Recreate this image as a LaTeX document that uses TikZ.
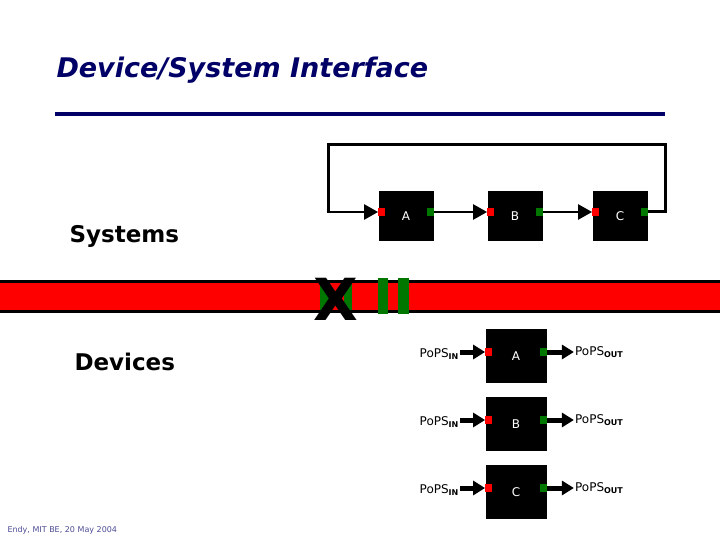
\documentclass[tikz,border=0pt]{standalone}
\usepackage{fontspec}
\setmainfont{DejaVu Sans}
\usetikzlibrary{arrows.meta}
\definecolor{navy}{RGB}{0,0,102}
\definecolor{dgreen}{RGB}{0,120,0}
\begin{document}
\begin{tikzpicture}[x=1pt,y=-1pt,
 box/.style={fill=black,draw=none,minimum width=#1,text=white,inner sep=0pt,font=\fontsize{12}{14}\selectfont},
 port/.style={fill=#1,minimum width=7pt,minimum height=8pt,inner sep=0pt},
 wire/.style={line width=2.5pt,-{Triangle[length=14pt,width=15pt]}},
 fat/.style={line width=5pt,-{Triangle[length=12pt,width=14pt]}},
 lbl/.style={font=\fontsize{12}{14}\selectfont,inner sep=1pt}]
\useasboundingbox (0,0) rectangle (720,540);
\node[font=\bfseries\itshape\fontsize{27}{30}\selectfont,text=navy,anchor=west] (title) at (53,70) {Device/System Interface};
\draw[navy,line width=4.5pt] (55,114) -- (665,114);
\node[font=\bfseries\fontsize{23}{26}\selectfont,anchor=west] (sys) at (66,236) {Systems};
\node[font=\bfseries\fontsize{23}{26}\selectfont,anchor=west] (dev) at (71,362) {Devices};
\node[font=\fontsize{8}{9}\selectfont,text=navy!70,anchor=west] (foot) at (4,530) {Endy, MIT BE, 20 May 2004};
% band
\fill[black] (0,280) rectangle (720,313);
\fill[red] (0,283) rectangle (720,310);
\fill[dgreen] (320,283) rectangle (330,310);
\fill[dgreen] (344,283) rectangle (352,310);
\node[font=\bfseries\fontsize{58}{58}\selectfont,inner sep=0pt] (x) at (336,299) {X};
\fill[dgreen] (378,278) rectangle (388,314);
\fill[dgreen] (398,278) rectangle (409,314);
% top boxes
\foreach \n/\x in {A/406,B/515,C/620}{
 \node[box=55pt,minimum height=50pt] (s\n) at (\x,216) {\n};
 \node[port=red] (si\n) at ([xshift=3.5pt,yshift=4pt]s\n.west) {};
 \node[port=dgreen] (so\n) at ([xshift=-3.5pt,yshift=4pt]s\n.east) {};
}
\coordinate (lt) at (328,145); \coordinate (rt) at (665,145);
\coordinate (lb) at (328,212);
\draw[line width=3pt] (soC.east) -| (rt) -- (lt) -- ([yshift=-1.5pt]lb);
\draw[wire] ([xshift=-1.5pt]lb) -- (siA.west);
\draw[wire] (soA.east) -- (siB.west);
\draw[wire] (soB.east) -- (siC.west);
% bottom boxes
\foreach \n/\y in {A/356,B/424,C/492}{
 \node[box=61pt,minimum height=54pt] (d\n) at (516,\y) {\n};
 \node[port=red] (di\n) at ([xshift=3.5pt,yshift=4pt]d\n.west) {};
 \node[port=dgreen] (do\n) at ([xshift=-3.5pt,yshift=4pt]d\n.east) {};
 \node[lbl,anchor=east] (in\n) at ([xshift=-25pt,yshift=-2pt]di\n.west) {PoPS\textsubscript{\fontsize{8}{8}\selectfont\bfseries IN}};
 \node[lbl,anchor=west] (out\n) at ([xshift=27pt,yshift=0pt]do\n.east) {PoPS\textsubscript{\fontsize{8}{8}\selectfont\bfseries OUT}};
 \draw[fat] (in\n.east|-di\n) -- (di\n.west);
 \draw[fat] (do\n.east) -- (out\n.west|-do\n);
}
\end{tikzpicture}
\end{document}
